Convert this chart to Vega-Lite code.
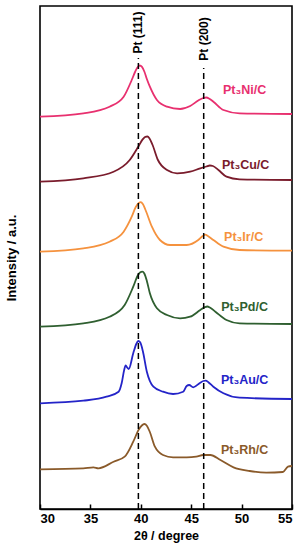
{
  "$schema": "https://vega.github.io/schema/vega-lite/v6.json",
  "width": 252,
  "height": 503,
  "autosize": {"type": "none"},
  "padding": {"left": 40, "top": 6, "right": 15, "bottom": 41},
  "background": "white",
  "config": {
    "view": {"stroke": "#000", "strokeWidth": 1.6},
    "font": "Liberation Sans",
    "axis": {"grid": false, "labelFont": "Liberation Sans", "titleFont": "Liberation Sans", "labelFontWeight": "bold", "titleFontWeight": "bold", "labelColor": "#000", "titleColor": "#000", "labelFontSize": 13, "titleFontSize": 12.5}
  },
  "datasets": {
    "curves": [
      {"s": "Ni", "t": 30, "v": 392.3}, {"s": "Ni", "t": 34.3, "v": 395.7}, {"s": "Ni", "t": 36.9, "v": 402.3}, {"s": "Ni", "t": 38.3, "v": 412.3}, {"s": "Ni", "t": 39.1, "v": 429}, {"s": "Ni", "t": 39.45, "v": 437.5}, {"s": "Ni", "t": 39.7, "v": 442}, {"s": "Ni", "t": 39.9, "v": 443.5}, {"s": "Ni", "t": 40.1, "v": 442.3}, {"s": "Ni", "t": 40.35, "v": 437.5}, {"s": "Ni", "t": 40.6, "v": 430}, {"s": "Ni", "t": 40.9, "v": 422.3}, {"s": "Ni", "t": 41.6, "v": 409}, {"s": "Ni", "t": 42.6, "v": 402.3}, {"s": "Ni", "t": 43.9, "v": 400}, {"s": "Ni", "t": 44.9, "v": 403}, {"s": "Ni", "t": 45.7, "v": 408.5}, {"s": "Ni", "t": 46.2, "v": 411}, {"s": "Ni", "t": 46.5, "v": 411.5}, {"s": "Ni", "t": 46.8, "v": 410.3}, {"s": "Ni", "t": 47.2, "v": 407.3}, {"s": "Ni", "t": 48.2, "v": 399}, {"s": "Ni", "t": 49.8, "v": 395.7}, {"s": "Ni", "t": 55, "v": 395},
      {"s": "Cu", "t": 30, "v": 327.3}, {"s": "Cu", "t": 34.3, "v": 330.7}, {"s": "Cu", "t": 37.3, "v": 337.3}, {"s": "Cu", "t": 38.9, "v": 349}, {"s": "Cu", "t": 39.75, "v": 362.3}, {"s": "Cu", "t": 40.2, "v": 369.8}, {"s": "Cu", "t": 40.45, "v": 372.2}, {"s": "Cu", "t": 40.65, "v": 372.5}, {"s": "Cu", "t": 40.85, "v": 370.8}, {"s": "Cu", "t": 41.15, "v": 364.5}, {"s": "Cu", "t": 41.7, "v": 349}, {"s": "Cu", "t": 42.6, "v": 339}, {"s": "Cu", "t": 43.6, "v": 335.7}, {"s": "Cu", "t": 44.9, "v": 337.3}, {"s": "Cu", "t": 45.9, "v": 340.7}, {"s": "Cu", "t": 46.5, "v": 342.5}, {"s": "Cu", "t": 46.85, "v": 343.5}, {"s": "Cu", "t": 47.15, "v": 343}, {"s": "Cu", "t": 47.7, "v": 339}, {"s": "Cu", "t": 48.5, "v": 332.3}, {"s": "Cu", "t": 49.8, "v": 329.7}, {"s": "Cu", "t": 55, "v": 329},
      {"s": "Ir", "t": 30, "v": 257.3}, {"s": "Ir", "t": 34.3, "v": 260.7}, {"s": "Ir", "t": 36.9, "v": 267.3}, {"s": "Ir", "t": 38.3, "v": 277.3}, {"s": "Ir", "t": 39.1, "v": 292.3}, {"s": "Ir", "t": 39.5, "v": 302}, {"s": "Ir", "t": 39.8, "v": 306}, {"s": "Ir", "t": 40.0, "v": 306.9}, {"s": "Ir", "t": 40.2, "v": 305}, {"s": "Ir", "t": 40.45, "v": 299.5}, {"s": "Ir", "t": 41.1, "v": 282.3}, {"s": "Ir", "t": 41.9, "v": 269}, {"s": "Ir", "t": 42.9, "v": 264}, {"s": "Ir", "t": 44.55, "v": 264}, {"s": "Ir", "t": 45.7, "v": 269}, {"s": "Ir", "t": 46.15, "v": 273}, {"s": "Ir", "t": 46.4, "v": 274.3}, {"s": "Ir", "t": 46.65, "v": 273}, {"s": "Ir", "t": 47.2, "v": 269}, {"s": "Ir", "t": 48.2, "v": 262.3}, {"s": "Ir", "t": 49.8, "v": 259}, {"s": "Ir", "t": 55, "v": 258.3},
      {"s": "Pd", "t": 30, "v": 182.3}, {"s": "Pd", "t": 34.3, "v": 185.7}, {"s": "Pd", "t": 36.9, "v": 192.3}, {"s": "Pd", "t": 38.4, "v": 204}, {"s": "Pd", "t": 39.25, "v": 222.3}, {"s": "Pd", "t": 39.7, "v": 233.5}, {"s": "Pd", "t": 39.95, "v": 236.8}, {"s": "Pd", "t": 40.15, "v": 237.4}, {"s": "Pd", "t": 40.35, "v": 235.5}, {"s": "Pd", "t": 40.6, "v": 228}, {"s": "Pd", "t": 40.9, "v": 215.7}, {"s": "Pd", "t": 41.6, "v": 200.7}, {"s": "Pd", "t": 42.6, "v": 194}, {"s": "Pd", "t": 43.9, "v": 190.7}, {"s": "Pd", "t": 44.9, "v": 192.3}, {"s": "Pd", "t": 45.9, "v": 199}, {"s": "Pd", "t": 46.35, "v": 201.8}, {"s": "Pd", "t": 46.6, "v": 202.5}, {"s": "Pd", "t": 46.85, "v": 201.5}, {"s": "Pd", "t": 47.4, "v": 197.3}, {"s": "Pd", "t": 48.5, "v": 189}, {"s": "Pd", "t": 49.8, "v": 185.7}, {"s": "Pd", "t": 55, "v": 185},
      {"s": "Au", "t": 30, "v": 105.7}, {"s": "Au", "t": 34.3, "v": 108.3}, {"s": "Au", "t": 36.6, "v": 112.3}, {"s": "Au", "t": 37.8, "v": 117.3}, {"s": "Au", "t": 38.1, "v": 125.7}, {"s": "Au", "t": 38.35, "v": 139}, {"s": "Au", "t": 38.5, "v": 143.5}, {"s": "Au", "t": 38.65, "v": 141.5}, {"s": "Au", "t": 38.8, "v": 140}, {"s": "Au", "t": 39.25, "v": 155.7}, {"s": "Au", "t": 39.55, "v": 165}, {"s": "Au", "t": 39.75, "v": 168}, {"s": "Au", "t": 39.95, "v": 166.5}, {"s": "Au", "t": 40.2, "v": 158}, {"s": "Au", "t": 40.6, "v": 137.3}, {"s": "Au", "t": 41.25, "v": 122.3}, {"s": "Au", "t": 42.2, "v": 117.3}, {"s": "Au", "t": 43.2, "v": 115}, {"s": "Au", "t": 44.2, "v": 117.3}, {"s": "Au", "t": 44.55, "v": 123}, {"s": "Au", "t": 44.8, "v": 124}, {"s": "Au", "t": 45.2, "v": 121.7}, {"s": "Au", "t": 45.9, "v": 126.3}, {"s": "Au", "t": 46.2, "v": 128}, {"s": "Au", "t": 46.45, "v": 128.4}, {"s": "Au", "t": 46.7, "v": 126.8}, {"s": "Au", "t": 47.2, "v": 122.3}, {"s": "Au", "t": 48.2, "v": 115.7}, {"s": "Au", "t": 49.8, "v": 111.3}, {"s": "Au", "t": 55, "v": 110},
      {"s": "Rh", "t": 30, "v": 39.7}, {"s": "Rh", "t": 34.3, "v": 40.7}, {"s": "Rh", "t": 35.3, "v": 41.7}, {"s": "Rh", "t": 35.8, "v": 40.7}, {"s": "Rh", "t": 37.3, "v": 47.3}, {"s": "Rh", "t": 38.4, "v": 52.3}, {"s": "Rh", "t": 39.25, "v": 67.3}, {"s": "Rh", "t": 39.8, "v": 79.5}, {"s": "Rh", "t": 40.1, "v": 83.5}, {"s": "Rh", "t": 40.35, "v": 85}, {"s": "Rh", "t": 40.6, "v": 83.3}, {"s": "Rh", "t": 40.9, "v": 77}, {"s": "Rh", "t": 41.4, "v": 62.3}, {"s": "Rh", "t": 42.2, "v": 54}, {"s": "Rh", "t": 43.2, "v": 51.7}, {"s": "Rh", "t": 44.55, "v": 51.7}, {"s": "Rh", "t": 45.5, "v": 52.3}, {"s": "Rh", "t": 46.2, "v": 54}, {"s": "Rh", "t": 46.9, "v": 54}, {"s": "Rh", "t": 47.9, "v": 49}, {"s": "Rh", "t": 49.2, "v": 41.7}, {"s": "Rh", "t": 50.8, "v": 38}, {"s": "Rh", "t": 52.45, "v": 36.3}, {"s": "Rh", "t": 54.1, "v": 37}, {"s": "Rh", "t": 54.6, "v": 42.3}, {"s": "Rh", "t": 55, "v": 43}
    ],
    "labels": [
      {"s": "Ni", "label": "Pt₃Ni/C", "t": 50.3, "v": 419},
      {"s": "Cu", "label": "Pt₃Cu/C", "t": 50.4, "v": 344},
      {"s": "Ir", "label": "Pt₃Ir/C", "t": 50.2, "v": 272},
      {"s": "Pd", "label": "Pt₃Pd/C", "t": 50.3, "v": 202},
      {"s": "Au", "label": "Pt₃Au/C", "t": 50.3, "v": 129},
      {"s": "Rh", "label": "Pt₃Rh/C", "t": 50.3, "v": 59}
    ],
    "peaks": [
      {"name": "Pt (111)", "t": 39.76, "base": 0, "top": 451, "tv": 476.5},
      {"name": "Pt (200)", "t": 46.24, "base": 0, "top": 441, "tv": 470}
    ]
  },
  "layer": [
    {
      "data": {"name": "curves"},
      "mark": {"type": "line", "strokeWidth": 1.8, "interpolate": "monotone"},
      "encoding": {
        "x": {"field": "t", "type": "quantitative", "scale": {"domain": [30, 55], "nice": false, "zero": false}, "axis": {"values": [30, 35, 40, 45, 50, 55], "title": "2θ / degree", "tickSize": -5, "tickColor": "#000", "tickWidth": 1.5, "domainColor": "#000", "domainWidth": 1.6, "labelPadding": 8, "titlePadding": 4}},
        "y": {"field": "v", "type": "quantitative", "scale": {"domain": [0, 503], "nice": false}, "axis": {"labels": false, "ticks": false, "domain": false, "title": "Intensity / a.u.", "titleFontSize": 13, "titlePadding": 22}},
        "color": {"field": "s", "type": "nominal", "legend": null, "scale": {"domain": ["Ni", "Cu", "Ir", "Pd", "Au", "Rh"], "range": ["#e8306f", "#7a1c2c", "#f5923e", "#2f5f30", "#2424c8", "#8a5a2a"]}}
      }
    },
    {
      "data": {"name": "peaks"},
      "mark": {"type": "rule", "color": "#000", "strokeWidth": 1.5, "strokeDash": [6, 4]},
      "encoding": {
        "x": {"field": "t", "type": "quantitative"},
        "y": {"field": "base", "type": "quantitative"},
        "y2": {"field": "top"}
      }
    },
    {
      "data": {"name": "labels"},
      "mark": {"type": "text", "fontSize": 12.5, "fontWeight": "bold", "align": "center", "baseline": "middle", "font": "Liberation Sans"},
      "encoding": {
        "x": {"field": "t", "type": "quantitative"},
        "y": {"field": "v", "type": "quantitative"},
        "text": {"field": "label", "type": "nominal"},
        "color": {"field": "s", "type": "nominal", "legend": null}
      }
    },
    {
      "data": {"name": "peaks"},
      "mark": {"type": "text", "fontSize": 12, "fontWeight": "bold", "align": "center", "baseline": "middle", "angle": 270, "color": "#000", "font": "Liberation Sans"},
      "encoding": {
        "x": {"field": "t", "type": "quantitative"},
        "y": {"field": "tv", "type": "quantitative"},
        "text": {"field": "name", "type": "nominal"}
      }
    }
  ]
}
